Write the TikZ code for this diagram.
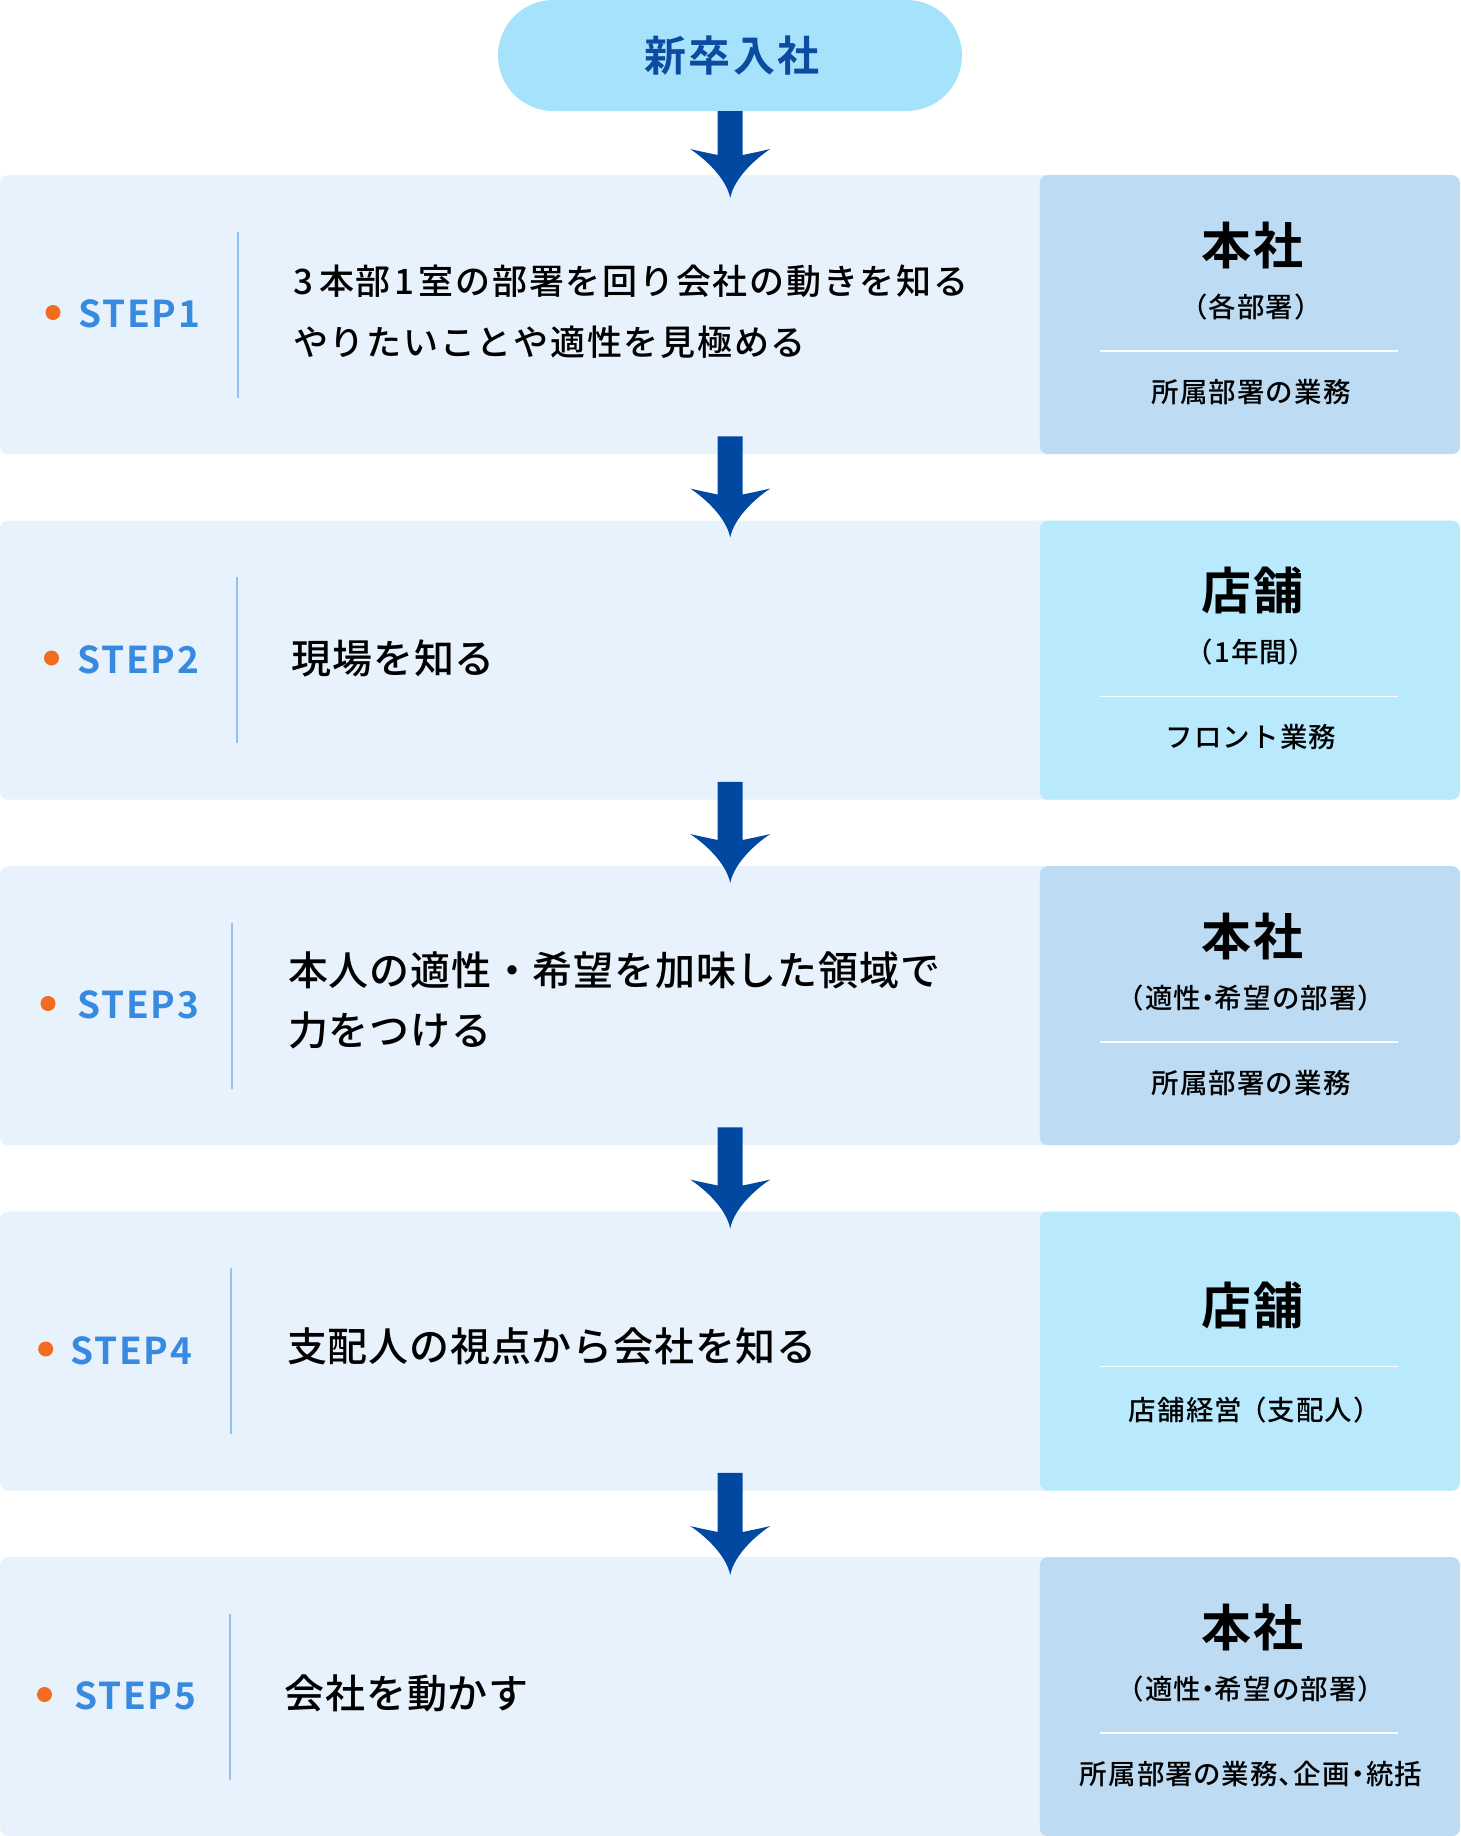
\documentclass[tikz,border=0pt]{standalone}
\usepackage{fontspec}
\usetikzlibrary{calc}
\newfontfamily\jp{Noto Sans CJK JP}
\newfontfamily\jpm[UprightFont={* Medium},BoldFont={* Bold}]{Noto Sans CJK JP}
\definecolor{boxbg}{HTML}{E8F2FC}
\definecolor{hqbg}{HTML}{BDDCF4}
\definecolor{shopbg}{HTML}{B8E9FD}
\definecolor{pillbg}{HTML}{A6E2FC}
\definecolor{pilltext}{HTML}{0B4BA0}
\definecolor{arrowc}{HTML}{0048A0}
\definecolor{stepblue}{HTML}{388AE0}
\definecolor{divblue}{HTML}{92C2EF}
\definecolor{dotorange}{HTML}{F26C1F}
\newcommand\flowarrow[2]{%
  \fill[arrowc] ([xshift=-12.5pt]#1) -- ([shift={(-12.5,-43)}]#2)
    .. controls ([shift={(-22,-45)}]#2) and ([shift={(-32,-47)}]#2) .. ([shift={(-40,-49)}]#2)
    .. controls ([shift={(-25,-39)}]#2) and ([shift={(-4,-20)}]#2) .. (#2)
    .. controls ([shift={(4,-20)}]#2) and ([shift={(25,-39)}]#2) .. ([shift={(40,-49)}]#2)
    .. controls ([shift={(32,-47)}]#2) and ([shift={(22,-45)}]#2) .. ([shift={(12.5,-43)}]#2)
    -- ([xshift=12.5pt]#1) -- cycle;}
\begin{document}
\begin{tikzpicture}[x=1pt,y=-1pt,
  leftbox/.style={fill=boxbg, rounded corners=8pt, inner sep=0, minimum width=1460pt, minimum height=279pt, anchor=north west},
  panelhq/.style={fill=hqbg, rounded corners=8pt, inner sep=0, minimum width=420pt, minimum height=279pt, anchor=north east},
  panelshop/.style={panelhq, fill=shopbg},
  pill/.style={fill=pillbg, rounded corners=55.5pt, inner sep=0, minimum width=464pt, minimum height=111pt},
  pilltxt/.style={font={\jpm\bfseries\fontsize{42}{50}\selectfont\addfontfeature{LetterSpace=5}}, text=pilltext, inner sep=0, anchor=base},
  ptitle/.style={font={\jpm\bfseries\fontsize{50}{60}\selectfont\addfontfeature{LetterSpace=4}}, inner sep=0, anchor=base},
  psub/.style={font={\jpm\fontsize{27.5}{32}\selectfont\addfontfeature{LetterSpace=4}}, inner sep=0, anchor=base},
  steplabel/.style={font={\jpm\bfseries\fontsize{37}{44}\selectfont\addfontfeature{LetterSpace=5}}, text=stepblue, inner sep=0, anchor=base west},
  maintext/.style={font={\jpm\fontsize{40}{48}\selectfont\addfontfeature{LetterSpace=2}}, inner sep=0, anchor=base west},
  smalltext/.style={font={\jpm\fontsize{35}{42}\selectfont\addfontfeature{LetterSpace=5}}, inner sep=0, anchor=base west},
  stepdot/.style={circle, fill=dotorange, minimum size=15pt, inner sep=0},
  divider/.style={draw=divblue, line width=2pt},
  pline/.style={draw=white, line width=1.5pt}
]
\useasboundingbox (0,0) rectangle (1460,1836);
\fill[white] (0,0) rectangle (1460,1836);

% boxes
\node[leftbox] (b1) at (0,175) {};
\node[leftbox] (b2) at (0,520.5) {};
\node[leftbox] (b3) at (0,866) {};
\node[leftbox] (b4) at (0,1211.5) {};
\node[leftbox] (b5) at (0,1557) {};
\node[panelhq] (p1) at (1460,175) {};
\node[panelshop] (p2) at (1460,520.5) {};
\node[panelhq] (p3) at (1460,866) {};
\node[panelshop] (p4) at (1460,1211.5) {};
\node[panelhq] (p5) at (1460,1557) {};

% arrows
\coordinate (a1t) at ($(b1.north)+(0,23)$);
\coordinate (a2s) at ($(b1.south)+(0,-18)$);
\coordinate (a2t) at ($(b2.north)+(0,17)$);
\coordinate (a3s) at ($(b2.south)+(0,-18)$);
\coordinate (a3t) at ($(b3.north)+(0,17)$);
\coordinate (a4s) at ($(b3.south)+(0,-18)$);
\coordinate (a4t) at ($(b4.north)+(0,17)$);
\coordinate (a5s) at ($(b4.south)+(0,-18)$);
\coordinate (a5t) at ($(b5.north)+(0,18)$);
\node[pill] (start) at (730,55.5) {};
\flowarrow{start.south}{a1t}
\flowarrow{a2s}{a2t}
\flowarrow{a3s}{a3t}
\flowarrow{a4s}{a4t}
\flowarrow{a5s}{a5t}
\node[pilltxt] (starttxt) at (732,71) {新卒入社};

% step labels
\node[stepdot] (d1) at (53,312.5) {};
\node[steplabel] (s1) at (78,327.5) {STEP1};
\draw[divider] (238,231.5) coordinate (l1a) -- (238,397.5) coordinate (l1b);
\node[smalltext] (t1a) at (293,294) {3\kern6pt本部\kern4pt1\kern4pt室の部署を回り会社の動きを知る};
\node[smalltext] (t1b) at (293,355) {やりたいことや適性を見極める};

\node[stepdot] (d2) at (51.5,658) {};
\node[steplabel] (s2) at (77,673) {STEP2};
\draw[divider] (236.5,577) coordinate (l2a) -- (236.5,743) coordinate (l2b);
\node[maintext] (t2) at (291.5,673) {現場を知る};

\node[stepdot] (d3) at (48,1003.5) {};
\node[steplabel] (s3) at (77,1018.5) {STEP3};
\draw[divider] (232,922.5) coordinate (l3a) -- (232,1088.5) coordinate (l3b);
\node[maintext] (t3a) at (288,985.5) {本人の適性・希望を加味した領域で};
\node[maintext] (t3b) at (288,1045) {力をつける};

\node[stepdot] (d4) at (45.7,1349) {};
\node[steplabel] (s4) at (70,1364) {STEP4};
\draw[divider] (230.6,1268) coordinate (l4a) -- (230.6,1434) coordinate (l4b);
\node[maintext] (t4) at (287,1361.5) {支配人の視点から会社を知る};

\node[stepdot] (d5) at (44.5,1694.5) {};
\node[steplabel] (s5) at (74,1709.5) {STEP5};
\draw[divider] (229.5,1613.5) coordinate (l5a) -- (229.5,1779.5) coordinate (l5b);
\node[maintext] (t5) at (284.5,1708) {会社を動かす};

% right panels
\node[ptitle] (h1) at (1252,264) {本社};
\node[psub] (h1s) at (1251,317) {（各部署）};
\draw[pline] (1100,351) -- (1398,351);
\node[psub] (h1w) at (1251,402) {所属部署の業務};

\node[ptitle] (h2) at (1252,609.5) {店舗};
\node[psub] (h2s) at (1251,662.5) {（1年間）};
\draw[pline] (1100,696.5) -- (1398,696.5);
\node[psub] (h2w) at (1251,747.5) {フロント業務};

\node[ptitle] (h3) at (1252,955) {本社};
\node[psub] (h3s) at (1251,1008) {（適性\kern-7pt・\kern-7pt希望の部署）};
\draw[pline] (1100,1042) -- (1398,1042);
\node[psub] (h3w) at (1251,1093) {所属部署の業務};

\node[ptitle] (h4) at (1252,1324.5) {店舗};
\draw[pline] (1100,1366.5) -- (1398,1366.5);
\node[psub] (h4w) at (1255,1420.5) {店舗経営\kern-3pt（支配人）};

\node[ptitle] (h5) at (1252,1646) {本社};
\node[psub] (h5s) at (1251,1699) {（適性\kern-7pt・\kern-7pt希望の部署）};
\draw[pline] (1100,1733) -- (1398,1733);
\node[psub, font={\jpm\fontsize{27.5}{32}\selectfont\addfontfeature{LetterSpace=4,RawFeature=+palt}}] (h5w) at (1251,1784) {所属部署の業務、企画・統括};
\end{tikzpicture}
\end{document}
